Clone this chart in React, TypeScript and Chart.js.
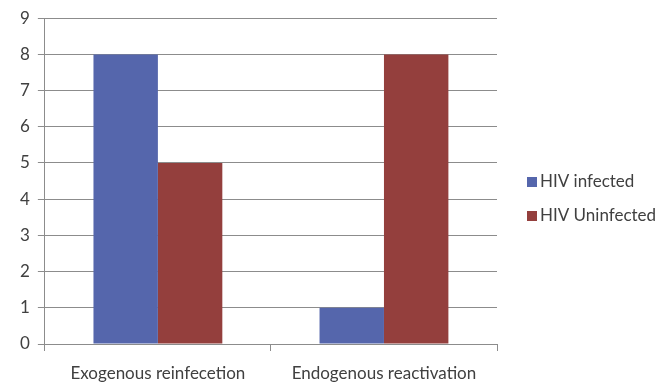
import React, { useEffect, useRef } from "react";
import { Chart, registerables } from "chart.js";

Chart.register(...registerables);

const categories = ["Exogenous reinfecetion", "Endogenous reactivation"];
const hivInfected = [8, 1];
const hivUninfected = [5, 8];
const seriesLabels = ["HIV infected", "HIV Uninfected"];
const yTicks = { min: 0, max: 9, step: 1 };

const FONT_FAMILY = "Lato, 'Liberation Sans', sans-serif";

const sideLegend = {
  id: "sideLegend",
  afterDraw(chart: any) {
    const ctx = chart.ctx;
    const area = chart.chartArea;
    const ds = chart.data.datasets;
    const x = area.right + 30;
    const gap = 34;
    const midY = 199;
    const startY = midY - ((ds.length - 1) * gap) / 2;
    ctx.save();
    ctx.font = `17px ${FONT_FAMILY}`;
    ctx.textBaseline = "middle";
    ctx.textAlign = "left";
    ds.forEach((d: any, i: number) => {
      const y = startY + i * gap;
      ctx.fillStyle = d.backgroundColor;
      ctx.fillRect(x, y - 5, 10, 10);
      ctx.fillStyle = "#404040";
      ctx.fillText(d.label, x + 13, y);
    });
    ctx.restore();
  },
};

export default function App() {
  const ref = useRef<HTMLCanvasElement | null>(null);
  useEffect(() => {
    if (!ref.current) return;
    const font = { family: FONT_FAMILY, size: 17 };
    const chart = new Chart(ref.current, {
      type: "bar",
      data: {
        labels: categories,
        datasets: [
          { label: seriesLabels[0], data: hivInfected, backgroundColor: "#5566AC", categoryPercentage: 0.57, barPercentage: 1 },
          { label: seriesLabels[1], data: hivUninfected, backgroundColor: "#943F3D", categoryPercentage: 0.57, barPercentage: 1 },
        ],
      },
      options: {
        responsive: false,
        animation: false,
        devicePixelRatio: 1,
        layout: { padding: { top: 8, right: 175, left: 12, bottom: 0 } },
        plugins: {
          tooltip: { enabled: false },
          legend: { display: false },
        },
        scales: {
          x: {
            grid: { drawOnChartArea: false, color: "#8C8C8C", tickLength: 7 },
            border: { color: "#8C8C8C" },
            ticks: { font, color: "#404040", padding: 12 },
            afterFit(scale: any) {
              scale.height = 43;
            },
          },
          y: {
            min: yTicks.min,
            max: yTicks.max,
            ticks: { stepSize: yTicks.step, font, color: "#404040", padding: 8 },
            grid: { color: "#8C8C8C", tickLength: 7 },
            border: { color: "#8C8C8C" },
          },
        },
      },
      plugins: [sideLegend],
    });
    return () => chart.destroy();
  }, []);
  return (
    <div style={{ position: "fixed", left: 0, top: 0, width: 672, height: 387, background: "#fff" }}>
      <canvas ref={ref} width={672} height={387} style={{ display: "block" }} />
    </div>
  );
}
